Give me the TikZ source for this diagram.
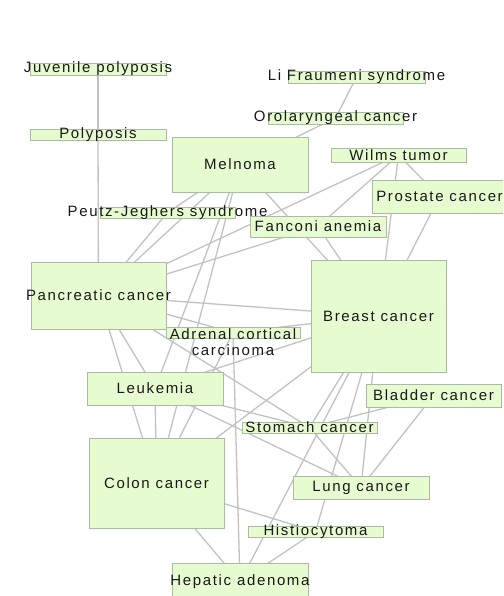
\documentclass[tikz,border=0pt]{standalone}
\usepackage{fontspec}
\newfontfamily\lblfont{Liberation Sans}[LetterSpace=11]
\definecolor{boxfill}{RGB}{230,252,208}
\definecolor{boxline}{RGB}{172,186,162}
\definecolor{edgegray}{RGB}{194,194,194}
\definecolor{lbltext}{RGB}{25,25,25}
\pgfdeclarelayer{bg}
\pgfdeclarelayer{edges}
\pgfsetlayers{bg,edges,main}
\tikzset{
  box/.style={draw=boxline, fill=boxfill, line width=0.9pt, inner sep=0pt, rectangle},
  lbl/.style={inner sep=0pt, text=lbltext, font=\lblfont\fontsize{15}{16}\selectfont, align=center},
  edge/.style={draw=edgegray, line width=1.3pt}
}
\begin{document}
\begin{tikzpicture}[x=1pt,y=-1pt]
\useasboundingbox (0,0) rectangle (503,596);
\clip (0,0) rectangle (503,596);
\begin{pgfonlayer}{bg}
\fill[white] (0,0) rectangle (503,596);
\end{pgfonlayer}

% disease boxes: centre, width, height
\node[box, minimum width=136, minimum height=12] (jp)  at (98,69) {};
\node[box, minimum width=136, minimum height=11] (pol) at (98,134.5) {};
\node[box, minimum width=136, minimum height=55] (mel) at (240,164.5) {};
\node[box, minimum width=137, minimum height=12] (lf)  at (356.5,77) {};
\node[box, minimum width=135, minimum height=12] (oro) at (335.5,118) {};
\node[box, minimum width=135, minimum height=14] (wil) at (398.5,155) {};
\node[box, minimum width=135, minimum height=33] (pro) at (439.5,196.5) {};
\node[box, minimum width=135, minimum height=11] (pj)  at (167.5,212.5) {};
\node[box, minimum width=136, minimum height=21] (fan) at (318,226.5) {};
\node[box, minimum width=135, minimum height=67] (pan) at (98.5,295.5) {};
\node[box, minimum width=135, minimum height=112] (bre) at (378.5,316) {};
\node[box, minimum width=134, minimum height=11] (adr) at (233,332.5) {};
\node[box, minimum width=136, minimum height=33] (leu) at (155,388.5) {};
\node[box, minimum width=135, minimum height=23] (bla) at (433.5,395.5) {};
\node[box, minimum width=135, minimum height=11] (sto) at (309.5,427.5) {};
\node[box, minimum width=135, minimum height=90] (col) at (156.5,483) {};
\node[box, minimum width=136, minimum height=23] (lun) at (361,487.5) {};
\node[box, minimum width=135, minimum height=11] (his) at (315.5,531.5) {};
\node[box, minimum width=136, minimum height=38] (hep) at (240,582) {};

% connections, centre to centre, drawn beneath the boxes
\begin{pgfonlayer}{edges}
\foreach \a/\b in {
  jp/pol, pol/pan, lf/oro, oro/mel,
  mel/pj, mel/pan, pj/pan, mel/leu, mel/col, mel/bre,
  wil/pan, wil/fan, wil/bre, wil/pro, pro/bre,
  fan/bre, fan/pan,
  pan/bre, pan/adr, pan/leu, pan/col, pan/sto,
  adr/bre, adr/col, adr/hep,
  leu/bre, leu/col, leu/lun, leu/sto,
  bre/col, bre/sto, bre/hep, bre/his, bre/lun,
  bla/sto, bla/lun, sto/lun,
  col/his, col/hep, his/hep}
  \draw[edge] (\a.center) -- (\b.center);
\end{pgfonlayer}

% labels
\node[lbl] (jp-t)  at (jp)  {Juvenile polyposis};
\node[lbl] (pol-t) at (pol) {Polyposis};
\node[lbl] (mel-t) at (mel) {Melnoma};
\node[lbl] (lf-t)  at (lf)  {Li Fraumeni syndrome};
\node[lbl] (oro-t) at (oro) {Orolaryngeal cancer};
\node[lbl] (wil-t) at (wil) {Wilms tumor};
\node[lbl] (pro-t) at (pro) {Prostate cancer};
\node[lbl] (pj-t)  at (pj)  {Peutz-Jeghers syndrome};
\node[lbl] (fan-t) at (fan) {Fanconi anemia};
\node[lbl] (pan-t) at (pan) {Pancreatic cancer};
\node[lbl] (bre-t) at (bre) {Breast cancer};
\node[lbl] (adr-t) at (233,342) {Adrenal cortical\\carcinoma};
\node[lbl] (leu-t) at (leu) {Leukemia};
\node[lbl] (bla-t) at (bla) {Bladder cancer};
\node[lbl] (sto-t) at (sto) {Stomach cancer};
\node[lbl] (col-t) at (col) {Colon cancer};
\node[lbl] (lun-t) at (lun) {Lung cancer};
\node[lbl] (his-t) at (his) {Histiocytoma};
\node[lbl] (hep-t) at (hep) {Hepatic adenoma};
\end{tikzpicture}
\end{document}
